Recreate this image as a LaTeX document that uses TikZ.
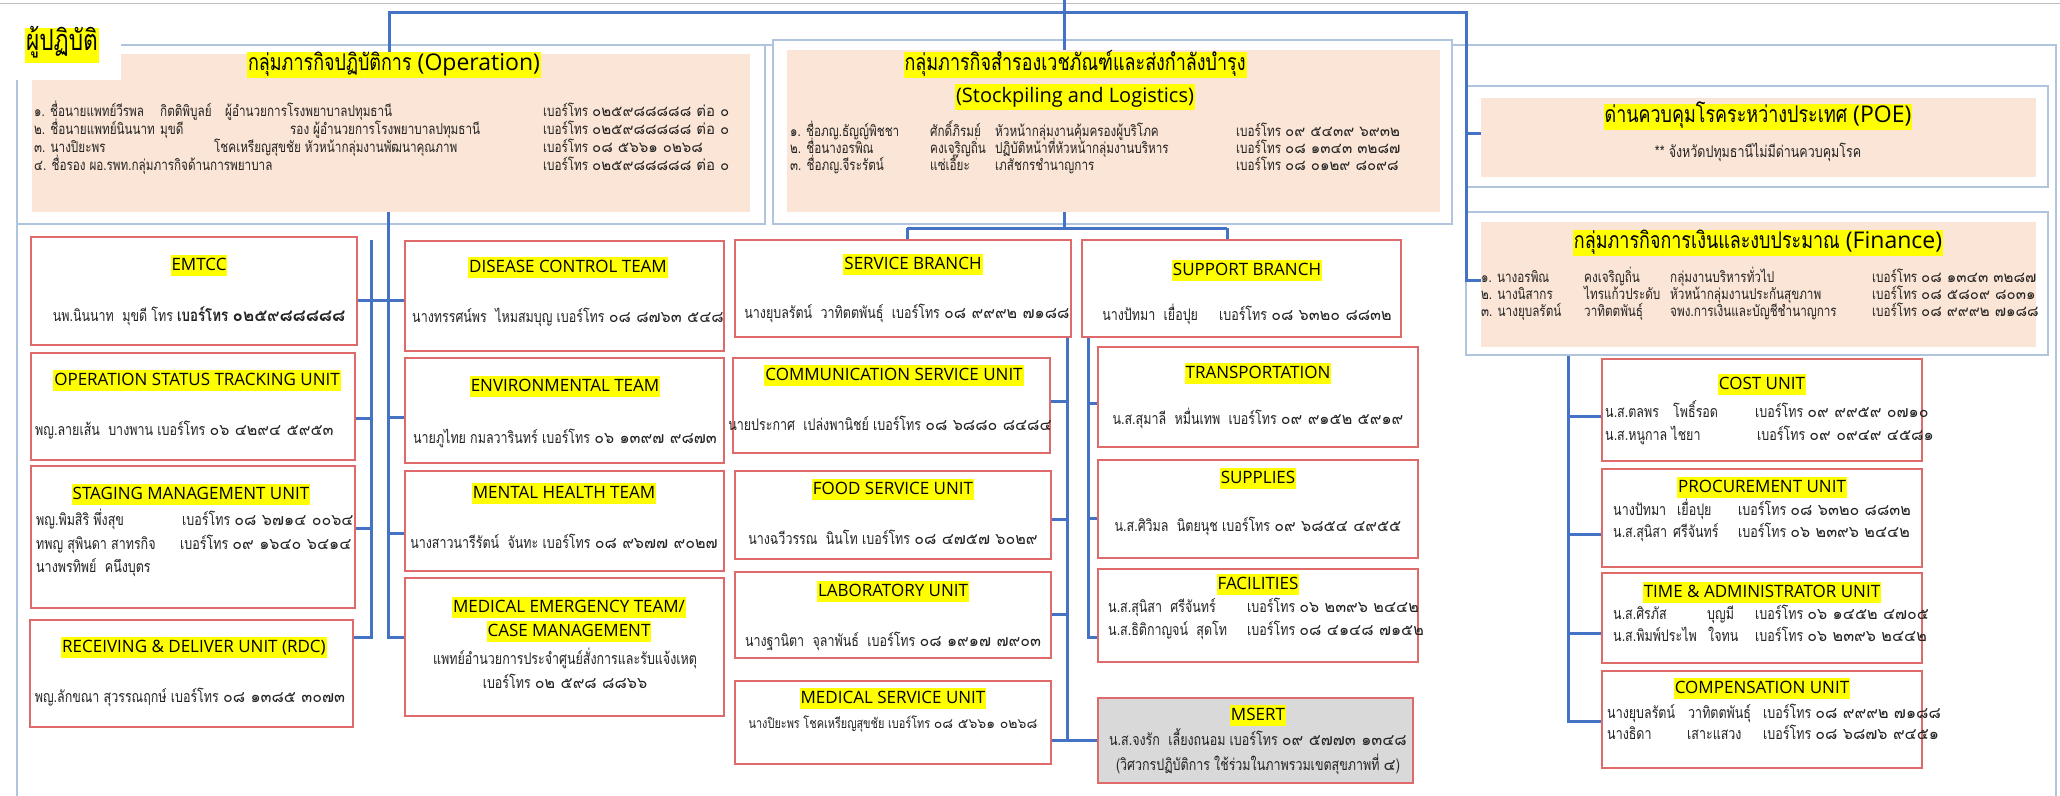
\documentclass[tikz,border=0pt]{standalone}
\usepackage{fontspec}
\setmainfont{Loma}[Script=Thai, FakeStretch=0.78]
\newfontfamily\dg{Loma}[Script=Thai]
\newfontfamily\lat{Open Sans}
\newcommand\ph[1]{เบอร์โทร {\dg #1}}
\definecolor{peach}{RGB}{251,229,214}
\definecolor{conblue}{RGB}{68,114,196}
\definecolor{frameblue}{RGB}{176,196,222}
\definecolor{topgray}{RGB}{190,190,190}
\definecolor{boxred}{RGB}{222,106,106}
\definecolor{hl}{RGB}{255,255,0}
\definecolor{txt}{RGB}{35,35,35}
\definecolor{msgray}{RGB}{217,217,217}
\newcommand\mybox[6]{\node[#1, minimum width={(#5-#3)*1pt}, minimum height={(#6-#4)*1pt}] (#2) at ({(#3+#5)/2},{(#4+#6)/2}) {};}
\tikzset{
 conn/.style={draw=conblue, line width=3pt},
 unitbox/.style={draw=boxred, line width=1.3pt, fill=white, inner sep=0pt},
 graybox/.style={unitbox, fill=msgray},
 framebox/.style={draw=frameblue, line width=1.2pt, fill=white, inner sep=0pt},
 peachbox/.style={fill=peach, inner sep=0pt},
 utitle/.style={fill=hl, font=\lat\fontsize{17}{20}\selectfont, text=black, inner xsep=1pt, inner ysep=0pt, text height=16pt, text depth=5pt, anchor=mid},
 gtitle/.style={fill=hl, font=\fontsize{23}{24}\selectfont, text=black, inner xsep=1pt, inner ysep=0pt, text height=19pt, text depth=7pt, anchor=mid},
 body/.style={font=\fontsize{16}{18}\selectfont, text=txt, inner sep=0pt, anchor=mid west},
 bodyc/.style={body, anchor=mid},
 tbody/.style={body, font=\fontsize{15}{17}\selectfont},
}
\begin{document}
\begin{tikzpicture}[x=1pt,y=-1pt]
\useasboundingbox (0,0) rectangle (2060,795);
\fill[white] (0,0) rectangle (2060,795);
\draw[topgray, line width=1pt] (0,3) -- (2060,3);
% outer frame
\mybox{framebox, fill=none}{outer}{17}{45}{2056}{805}
% top group frames
\mybox{framebox}{opf}{17}{45}{765}{224}
\mybox{peachbox}{oppeach}{32}{54}{750}{212}
\mybox{framebox}{stf}{773}{40}{1452}{224}
\mybox{peachbox}{stpeach}{787}{50}{1440}{212}
\mybox{framebox}{poef}{1466}{86}{2048}{187}
\mybox{peachbox}{poepeach}{1481}{98}{2036}{177}
\mybox{framebox}{finf}{1466}{212}{2048}{355}
\mybox{peachbox}{finpeach}{1481}{222}{2036}{347}
% label
\fill[white] (0,14) rectangle (121,80);
\node[fill=hl, font=\fontsize{29}{30}\selectfont, inner xsep=1pt, inner ysep=0pt, text height=23pt, text depth=12pt, anchor=center] (lbl) at (62,45) {ผู้ปฏิบัติ};

% ---------- top connectors
\coordinate (topL) at (389,12);
\coordinate (topR) at (1466,12);
\coordinate (topC) at (1064,0);
\coordinate (j-poe) at (1466,133);
\coordinate (j-fin) at (1466,280);
\draw[conn] (oppeach.north -| topL) -- (topL) -- (topR) -- (j-fin) -- (finpeach.west |- j-fin);
\draw[conn] (j-poe) -- (poepeach.west |- j-poe);
\draw[conn] (topC) -- (stpeach.north -| topC);

% ---------- operation text
\node[gtitle] (op-t) at (394,68) {กลุ่มภารกิจปฏิบัติการ {\lat (Operation)}};
\node[tbody] (op1a) at (34,114) {๑. ชื่อนายแพทย์วีรพล};
\node[tbody] (op1b) at (160,114) {กิตติพิบูลย์};
\node[tbody] (op1c) at (225,114) {ผู้อำนวยการโรงพยาบาลปทุมธานี};
\node[tbody] (op1d) at (543,114) {\ph{๐๒๕๙๘๘๘๘๘ ต่อ ๐}};
\node[tbody] (op2a) at (34,132) {๒. ชื่อนายแพทย์นินนาท};
\node[tbody] (op2b) at (160,132) {มุขดี};
\node[tbody] (op2c) at (290,132) {รอง ผู้อำนวยการโรงพยาบาลปทุมธานี};
\node[tbody] (op2d) at (543,132) {\ph{๐๒๕๙๘๘๘๘๘ ต่อ ๐}};
\node[tbody] (op3a) at (34,150) {๓. นางปิยะพร};
\node[tbody] (op3b) at (214,150) {โชคเหรียญสุขชัย หัวหน้ากลุ่มงานพัฒนาคุณภาพ};
\node[tbody] (op3d) at (543,150) {\ph{๐๘ ๕๖๖๑ ๐๒๖๘}};
\node[tbody] (op4a) at (34,168) {๔. ชื่อรอง ผอ.รพท.กลุ่มภารกิจด้านการพยาบาล};
\node[tbody] (op4d) at (543,168) {\ph{๐๒๕๙๘๘๘๘๘ ต่อ ๐}};

% ---------- stockpiling text
\node[gtitle] (st-t1) at (1075,68) {กลุ่มภารกิจสำรองเวชภัณฑ์และส่งกำลังบำรุง};
\node[gtitle, font=\lat\fontsize{20}{24}\selectfont] (st-t2) at (1075,100) {(Stockpiling and Logistics)};
\node[tbody] (st1a) at (790,134) {๑. ชื่อภญ.ธัญญ์พิชชา};
\node[tbody] (st1b) at (930,134) {ศักดิ์ภิรมย์};
\node[tbody] (st1c) at (995,134) {หัวหน้ากลุ่มงานคุ้มครองผู้บริโภค};
\node[tbody] (st1d) at (1236,134) {\ph{๐๙ ๕๔๓๙ ๖๙๓๒}};
\node[tbody] (st2a) at (790,151) {๒. ชื่อนางอรพิณ};
\node[tbody] (st2b) at (930,151) {คงเจริญถิ่น};
\node[tbody] (st2c) at (995,151) {ปฏิบัติหน้าที่หัวหน้ากลุ่มงานบริหาร};
\node[tbody] (st2d) at (1236,151) {\ph{๐๘ ๑๓๔๓ ๓๒๘๗}};
\node[tbody] (st3a) at (790,168) {๓. ชื่อภญ.จีระรัตน์};
\node[tbody] (st3b) at (930,168) {แซ่เอี๊ยะ};
\node[tbody] (st3c) at (995,168) {เภสัชกรชำนาญการ};
\node[tbody] (st3d) at (1236,168) {\ph{๐๘ ๐๑๒๙ ๘๐๙๘}};

% ---------- POE / finance text
\node[gtitle] (poe-t) at (1758,120) {ด่านควบคุมโรคระหว่างประเทศ {\lat (POE)}};
\node[bodyc] (poe-s) at (1758,155) {** จังหวัดปทุมธานีไม่มีด่านควบคุมโรค};
\node[gtitle] (fin-t) at (1758,246) {กลุ่มภารกิจการเงินและงบประมาณ {\lat (Finance)}};
\node[tbody] (fi1a) at (1481,280) {๑. นางอรพิณ};
\node[tbody] (fi1b) at (1584,280) {คงเจริญถิ่น};
\node[tbody] (fi1c) at (1670,280) {กลุ่มงานบริหารทั่วไป};
\node[tbody] (fi1d) at (1872,280) {\ph{๐๘ ๑๓๔๓ ๓๒๘๗}};
\node[tbody] (fi2a) at (1481,297) {๒. นางนิสากร};
\node[tbody] (fi2b) at (1584,297) {ไทรแก้วประดับ};
\node[tbody] (fi2c) at (1670,297) {หัวหน้ากลุ่มงานประกันสุขภาพ};
\node[tbody] (fi2d) at (1872,297) {\ph{๐๘ ๕๘๐๙ ๘๐๓๑}};
\node[tbody] (fi3a) at (1481,314) {๓. นางยุบลรัตน์};
\node[tbody] (fi3b) at (1584,314) {วาทิตตพันธุ์};
\node[tbody] (fi3c) at (1670,314) {จพง.การเงินและบัญชีชำนาญการ};
\node[tbody] (fi3d) at (1872,314) {\ph{๐๘ ๙๙๙๒ ๗๑๘๘}};

% ---------- left column
\mybox{unitbox}{emtcc}{31}{237}{357}{345}
\mybox{unitbox}{ost}{31}{353}{355}{460}
\mybox{unitbox}{stag}{31}{466}{355}{608}
\mybox{unitbox}{rdc}{30}{620}{353}{727}
\node[utitle] (emtcc-t) at (199,268) {EMTCC};
\node[bodyc] (emtcc-p) at (199,319) {นพ.นินนาท\ \ มุขดี โทร {\bfseries\fontsize{17}{18}\selectfont เบอร์โทร {\dg ๐๒๕๙๘๘๘๘๘}}};
\node[utitle] (ost-t) at (197,383) {OPERATION STATUS TRACKING UNIT};
\node[body] (ost-p) at (35,433) {พญ.ลายเส้น\ \ บางพาน \ph{๐๖ ๔๒๙๔ ๕๙๕๓}};
\node[utitle] (stag-t) at (191,497) {STAGING MANAGEMENT UNIT};
\node[body] (stag1a) at (36,523) {พญ.พิมสิริ พึ่งสุข};
\node[body] (stag1b) at (182,523) {\ph{๐๘ ๖๗๑๔ ๐๐๖๔}};
\node[body] (stag2a) at (36,547) {ทพญ สุพินดา สาทรกิจ};
\node[body] (stag2b) at (180,547) {\ph{๐๙ ๑๖๔๐ ๖๔๑๔}};
\node[body] (stag3a) at (36,570) {นางพรทิพย์\ \ คนึงบุตร};
\node[utitle] (rdc-t) at (194,650) {RECEIVING \& DELIVER UNIT (RDC)};
\node[bodyc] (rdc-p) at (190,700) {พญ.ลักขณา สุวรรณฤกษ์ \ph{๐๘ ๑๓๘๕ ๓๐๗๓}};

% ---------- operation teams column
\mybox{unitbox}{disease}{405}{241}{724}{351}
\mybox{unitbox}{env}{405}{358}{724}{463}
\mybox{unitbox}{mental}{405}{471}{724}{571}
\mybox{unitbox}{medem}{405}{578}{724}{716}
\node[utitle] (dis-t) at (568,270) {DISEASE CONTROL TEAM};
\node[bodyc] (dis-p) at (568,320) {นางทรรศน์พร\ \ ไหมสมบุญ \ph{๐๘ ๘๗๖๓ ๕๔๘}};
\node[utitle] (env-t) at (565,389) {ENVIRONMENTAL TEAM};
\node[bodyc] (env-p) at (565,441) {นายภูไทย กมลวารินทร์ \ph{๐๖ ๑๓๙๗ ๙๘๗๓}};
\node[utitle] (men-t) at (564,496) {MENTAL HEALTH TEAM};
\node[bodyc] (men-p) at (564,546) {นางสาวนารีรัตน์\ \ จันทะ \ph{๐๘ ๙๖๗๗ ๙๐๒๗}};
\node[utitle] (med-t1) at (569,610) {MEDICAL EMERGENCY TEAM/};
\node[utitle] (med-t2) at (569,634) {CASE MANAGEMENT};
\node[bodyc] (med-p1) at (565,662) {แพทย์อำนวยการประจำศูนย์สั่งการและรับแจ้งเหตุ};
\node[bodyc] (med-p2) at (565,686) {\ph{๐๒ ๕๙๘ ๘๘๖๖}};

% ---------- service column
\mybox{unitbox}{serv}{735}{240}{1071}{337}
\mybox{unitbox}{comm}{733}{358}{1050}{453}
\mybox{unitbox}{food}{735}{471}{1051}{559}
\mybox{unitbox}{lab}{735}{572}{1051}{658}
\mybox{unitbox}{medsv}{735}{681}{1051}{764}
\node[utitle] (serv-t) at (913,267) {SERVICE BRANCH};
\node[bodyc] (serv-p) at (907,316) {นางยุบลรัตน์\ \ วาทิตตพันธุ์\ \ \ph{๐๘ ๙๙๙๒ ๗๑๘๘}};
\node[utitle] (comm-t) at (894,378) {COMMUNICATION SERVICE UNIT};
\node[bodyc] (comm-p) at (890,428) {นายประกาศ\ \ เปล่งพานิชย์ \ph{๐๘ ๖๘๘๐ ๘๔๘๔}};
\node[utitle] (food-t) at (893,492) {FOOD SERVICE UNIT};
\node[bodyc] (food-p) at (893,542) {นางฉวีวรรณ\ \ นินโท \ph{๐๘ ๔๗๕๗ ๖๐๒๙}};
\node[utitle] (lab-t) at (893,594) {LABORATORY UNIT};
\node[bodyc] (lab-p) at (893,644) {นางฐานิตา\ \ จุลาพันธ์\ \ \ph{๐๘ ๑๙๑๗ ๗๙๐๓}};
\node[utitle] (medsv-t) at (893,701) {MEDICAL SERVICE UNIT};
\node[bodyc, font=\fontsize{14}{16}\selectfont] (medsv-p) at (893,726) {นางปิยะพร โชคเหรียญสุขชัย \ph{๐๘ ๕๖๖๑ ๐๒๖๘}};

% ---------- support column
\mybox{unitbox}{supp}{1082}{240}{1401}{337}
\mybox{unitbox}{trans}{1098}{347}{1418}{447}
\mybox{unitbox}{suppl}{1098}{460}{1418}{558}
\mybox{unitbox}{facil}{1098}{569}{1418}{662}
\mybox{graybox}{msert}{1098}{698}{1413}{783}
\node[utitle] (supp-t) at (1247,273) {SUPPORT BRANCH};
\node[bodyc] (supp-p) at (1247,318) {นางปัทมา\ \ เยื่อปุย\ \ \ \ \ \ph{๐๘ ๖๓๒๐ ๘๘๓๒}};
\node[utitle] (trans-t) at (1258,376) {TRANSPORTATION};
\node[bodyc] (trans-p) at (1258,422) {น.ส.สุมาลี\ \ หมื่นเทพ\ \ \ph{๐๙ ๙๑๕๒ ๕๙๑๙}};
\node[utitle] (suppl-t) at (1258,481) {SUPPLIES};
\node[bodyc] (suppl-p) at (1258,529) {น.ส.ศิวิมล\ \ นิตยนุช \ph{๐๙ ๖๘๕๔ ๔๙๕๕}};
\node[utitle] (facil-t) at (1258,587) {FACILITIES};
\node[body] (facil1a) at (1108,610) {น.ส.สุนิสา\ \ ศรีจันทร์};
\node[body] (facil1b) at (1247,610) {\ph{๐๖ ๒๓๙๖ ๒๔๔๒}};
\node[body] (facil2a) at (1108,633) {น.ส.ธิติกาญจน์\ \ สุดโท};
\node[body] (facil2b) at (1247,633) {\ph{๐๘ ๔๑๔๘ ๗๑๕๒}};
\node[utitle] (msert-t) at (1258,718) {MSERT};
\node[bodyc] (msert-p1) at (1258,743) {น.ส.จงรัก\ \ เลี้ยงถนอม \ph{๐๙ ๕๗๗๓ ๑๓๔๘}};
\node[bodyc] (msert-p2) at (1258,768) {(วิศวกรปฏิบัติการ ใช้ร่วมในภาพรวมเขตสุขภาพที่ {\dg ๔})};

% ---------- finance units
\mybox{unitbox}{cost}{1602}{359}{1922}{461}
\mybox{unitbox}{proc}{1602}{469}{1922}{567}
\mybox{unitbox}{time}{1602}{573}{1922}{663}
\mybox{unitbox}{comp}{1602}{671}{1922}{768}
\node[utitle] (cost-t) at (1762,387) {COST UNIT};
\node[body] (cost1a) at (1605,415) {น.ส.ตลพร};
\node[body] (cost1b) at (1673,415) {โพธิ์รอด};
\node[body] (cost1c) at (1755,415) {\ph{๐๙ ๙๙๕๙ ๐๗๑๐}};
\node[body] (cost2a) at (1605,438) {น.ส.หนูกาล ไชยา};
\node[body] (cost2c) at (1757,438) {\ph{๐๙ ๐๙๔๙ ๔๕๘๑}};
\node[utitle] (proc-t) at (1762,490) {PROCUREMENT UNIT};
\node[body] (proc1a) at (1613,513) {นางปัทมา};
\node[body] (proc1b) at (1677,513) {เยื่อปุย};
\node[body] (proc1c) at (1738,513) {\ph{๐๘ ๖๓๒๐ ๘๘๓๒}};
\node[body] (proc2a) at (1613,535) {น.ส.สุนิสา};
\node[body] (proc2b) at (1673,535) {ศรีจันทร์};
\node[body] (proc2c) at (1738,535) {\ph{๐๖ ๒๓๙๖ ๒๔๔๒}};
\node[utitle] (time-t) at (1762,595) {TIME \& ADMINISTRATOR UNIT};
\node[body] (time1a) at (1613,617) {น.ส.ศิรภัส};
\node[body] (time1b) at (1707,617) {บุญมี};
\node[body] (time1c) at (1755,617) {\ph{๐๖ ๑๔๕๒ ๔๗๐๕}};
\node[body] (time2a) at (1613,639) {น.ส.พิมพ์ประไพ};
\node[body] (time2b) at (1708,639) {ใจทน};
\node[body] (time2c) at (1755,639) {\ph{๐๖ ๒๓๙๖ ๒๔๔๒}};
\node[utitle] (comp-t) at (1762,691) {COMPENSATION UNIT};
\node[body] (comp1a) at (1607,716) {นางยุบลรัตน์};
\node[body] (comp1b) at (1688,716) {วาทิตตพันธุ์};
\node[body] (comp1c) at (1763,716) {\ph{๐๘ ๙๙๙๒ ๗๑๘๘}};
\node[body] (comp2a) at (1607,737) {นางธิดา};
\node[body] (comp2b) at (1687,737) {เสาะแสวง};
\node[body] (comp2c) at (1763,737) {\ph{๐๘ ๖๘๗๖ ๙๔๕๑}};

% ---------- connectors: operation
\coordinate (s1top) at (371,240);
\coordinate (s1bot) at (371,637);
\coordinate (s2bot) at (388,637);
\coordinate (r-emt) at (0,300);
\coordinate (r-ost) at (0,418);
\coordinate (r-stg) at (0,528);
\coordinate (r-env) at (0,417);
\coordinate (r-men) at (0,533);
\draw[conn] (oppeach.south -| s2bot) -- (s2bot) -- (medem.west |- s2bot);
\draw[conn] (s1top) -- (s1bot) -- (rdc.east |- s1bot);
\draw[conn] (emtcc.east |- r-emt) -- (disease.west |- r-emt);
\draw[conn] (ost.east |- r-ost) -- (s1top |- r-ost);
\draw[conn] (stag.east |- r-stg) -- (s1top |- r-stg);
\draw[conn] (s2bot |- r-env) -- (env.west |- r-env);
\draw[conn] (s2bot |- r-men) -- (mental.west |- r-men);

% ---------- connectors: stockpiling
\coordinate (hb) at (1064,228);
\coordinate (sp-top) at (1227,240);
\coordinate (sv-in) at (907,240);
\draw[conn] (stpeach.south -| hb) -- (hb);
\draw[conn] (sv-in |- hb) -- (sp-top |- hb);
\draw[conn] (sv-in |- hb) -- (serv.north -| sv-in);
\draw[conn] (sp-top |- hb) -- (supp.north -| sp-top);

\coordinate (sv-sp) at (1067,740);
\draw[conn] (serv.south -| sv-sp) -- (sv-sp);
\draw[conn] (medsv.east |- sv-sp) -- (msert.west |- sv-sp);
\coordinate (r-comm) at (0,401);
\coordinate (r-food) at (0,519);
\coordinate (r-lab) at (0,614);
\draw[conn] (comm.east |- r-comm) -- (sv-sp |- r-comm);
\draw[conn] (food.east |- r-food) -- (sv-sp |- r-food);
\draw[conn] (lab.east |- r-lab) -- (sv-sp |- r-lab);

\coordinate (su-sp) at (1088,637);
\draw[conn] (supp.south -| su-sp) -- (su-sp) -- (facil.west |- su-sp);
\coordinate (r-tr) at (0,403);
\coordinate (r-su) at (0,518);
\draw[conn] (su-sp |- r-tr) -- (trans.west |- r-tr);
\draw[conn] (su-sp |- r-su) -- (suppl.west |- r-su);

% ---------- connectors: finance
\coordinate (fi-sp) at (1568,721);
\draw[conn] (finf.south -| fi-sp) -- (fi-sp) -- (comp.west |- fi-sp);
\coordinate (r-cost) at (0,416);
\coordinate (r-proc) at (0,534);
\coordinate (r-time) at (0,633);
\draw[conn] (fi-sp |- r-cost) -- (cost.west |- r-cost);
\draw[conn] (fi-sp |- r-proc) -- (proc.west |- r-proc);
\draw[conn] (fi-sp |- r-time) -- (time.west |- r-time);
\end{tikzpicture}
\end{document}
